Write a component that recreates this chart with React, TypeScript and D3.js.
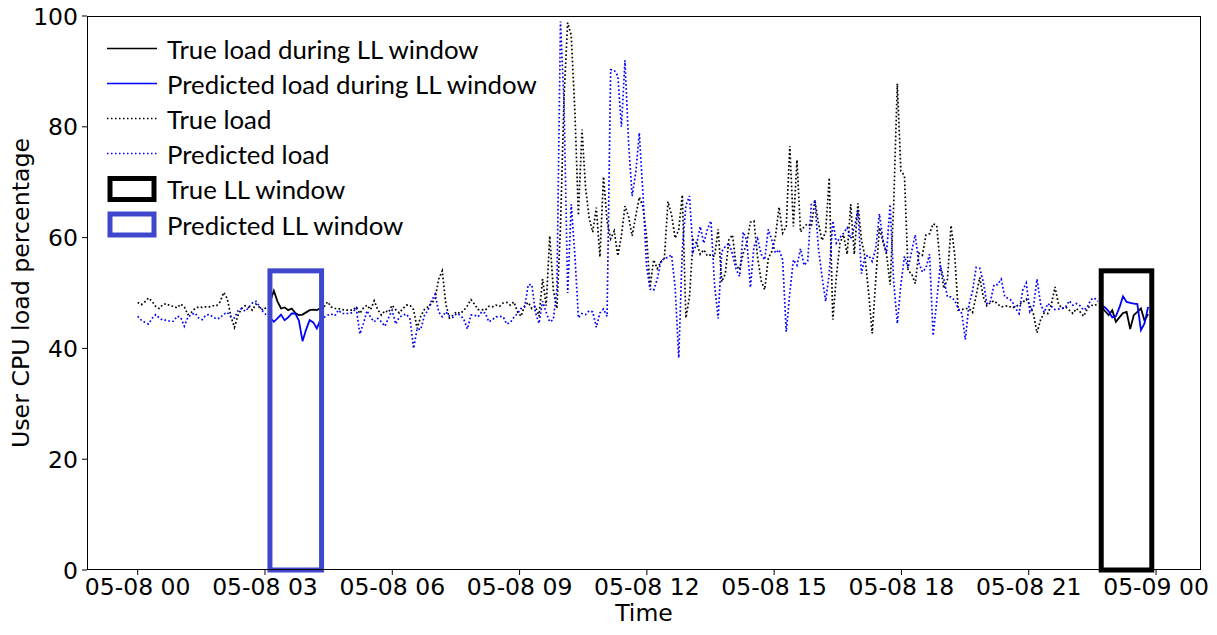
import React from 'react';
import * as d3 from 'd3';

// True user CPU load (%), one value per sampling step starting 05-08 00:00
const trueLoad: number[] = [
  48.3, 47.9, 48.4, 49.1, 48.5, 47.6, 47.2, 47.9, 48.1, 47.7, 47.6, 47.3,
  48.0, 47.5, 46.1, 46.5, 47.2, 47.5, 47.4, 47.5, 47.5, 47.7, 47.7, 48.4,
  50.1, 49.0, 45.8, 43.8, 46.0, 47.2, 47.7, 47.4, 46.9, 48.0, 47.4, 46.9,
  47.5, 48.5, 50.4, 48.5, 47.2, 47.4, 46.9, 47.2, 46.4, 46.0, 46.1, 46.5,
  46.9, 47.0, 46.9, 47.3, 47.5, 48.4, 47.5, 47.2, 47.2, 47.0, 46.9, 46.9,
  46.9, 47.5, 46.3, 47.3, 47.8, 47.0, 48.6, 47.0, 46.0, 46.8, 46.5, 47.8,
  47.0, 46.4, 47.2, 47.8, 47.8, 47.0, 43.6, 45.8, 47.0, 47.5, 48.1, 49.0,
  52.5, 54.0, 48.0, 45.5, 46.0, 46.6, 46.3, 46.8, 47.7, 48.8, 48.0, 47.0,
  47.0, 46.9, 47.6, 47.5, 47.8, 47.6, 48.2, 48.3, 47.8, 48.4, 46.6, 45.8,
  47.7, 48.3, 47.2, 47.6, 45.8, 52.5, 47.7, 60.3, 50.5, 47.2, 62.0, 85.5,
  98.8, 96.5, 83.0, 64.0, 79.5, 69.0, 63.5, 61.0, 65.4, 56.5, 71.0, 63.0,
  59.8, 61.2, 56.7, 60.3, 65.7, 63.8, 60.3, 63.9, 67.3, 65.6, 60.5, 51.0,
  56.0, 54.4, 55.6, 56.3, 66.5, 64.1, 59.9, 61.4, 67.7, 45.5, 49.3, 59.6,
  59.0, 57.0, 57.8, 56.7, 56.9, 56.6, 61.5, 52.0, 53.5, 59.6, 60.5, 55.0,
  54.2, 57.2, 59.0, 62.8, 63.0, 56.5, 52.2, 50.6, 56.3, 57.5, 60.2, 65.5,
  60.8, 62.0, 76.5, 62.0, 74.0, 61.0, 62.0, 62.5, 62.0, 66.8, 62.5, 59.5,
  61.0, 70.8, 45.2, 53.0, 59.0, 60.5, 57.0, 66.0, 57.0, 66.2, 59.5, 56.5,
  50.0, 42.7, 52.5, 61.8, 59.3, 57.0, 51.5, 66.0, 87.8, 72.0, 71.2, 54.0,
  53.5, 51.7, 57.2, 56.8, 60.5, 60.7, 62.5, 62.2, 55.0, 50.8, 52.5, 62.2,
  57.0, 46.9, 47.0, 47.2, 47.2, 46.5, 49.5, 52.8, 49.3, 47.7, 48.3, 48.6,
  48.0, 47.5, 47.6, 47.7, 47.3, 47.5, 47.9, 48.3, 48.9, 47.8, 46.2, 42.8,
  45.2, 46.4, 46.3, 47.9, 51.1, 48.0, 47.2, 47.5, 46.9, 46.3, 47.2, 46.6,
  45.8, 47.1, 47.8, 47.7, 48.1, 47.5, 46.7, 46.0, 46.9, 44.8, 45.6, 46.4,
  46.6, 43.5, 46.0, 46.6, 47.2, 45.0, 46.2,
];

// Predicted user CPU load (%)
const predLoad: number[] = [
  45.8, 45.1, 44.7, 44.4, 45.4, 46.1, 45.5, 45.1, 45.1, 44.9, 44.9, 45.8,
  45.6, 44.0, 45.6, 46.1, 46.4, 45.5, 45.2, 46.0, 46.1, 45.7, 45.3, 45.5,
  46.2, 46.5, 45.7, 45.5, 46.8, 47.2, 46.7, 47.4, 48.2, 48.5, 47.6, 46.6,
  46.0, 45.5, 44.8, 45.4, 46.1, 45.1, 45.6, 46.3, 46.3, 45.0, 41.3, 43.4,
  45.1, 44.7, 43.6, 45.2, 45.6, 46.0, 46.2, 45.9, 46.9, 46.3, 46.3, 46.3,
  46.5, 47.3, 42.6, 44.5, 46.8, 45.6, 44.8, 45.4, 44.8, 44.0, 45.5, 46.9,
  44.4, 45.6, 46.0, 46.2, 45.3, 40.0, 43.6, 43.4, 45.9, 46.9, 48.6, 49.8,
  46.6, 45.7, 46.6, 45.8, 45.6, 46.3, 46.0, 45.3, 43.5, 46.0, 46.0, 45.7,
  46.6, 46.4, 44.8, 45.2, 45.7, 45.8, 45.7, 44.4, 44.7, 45.6, 46.3, 47.2,
  47.5, 51.5, 51.5, 46.5, 44.5, 48.5, 46.5, 44.8, 45.2, 50.7, 99.0, 84.0,
  50.0, 66.0, 57.0, 45.5, 46.3, 46.1, 46.8, 46.6, 43.8, 46.4, 47.1, 45.8,
  90.3, 90.2, 89.2, 80.0, 92.0, 77.0, 67.5, 71.7, 78.9, 68.0, 55.0, 50.7,
  50.5, 52.5, 55.6, 56.3, 56.4, 56.9, 51.0, 38.3, 58.0, 65.8, 67.5, 57.5,
  58.8, 62.0, 59.0, 61.5, 63.0, 51.5, 45.4, 57.5, 58.4, 59.0, 57.0, 54.3,
  53.0, 61.0, 59.5, 51.0, 58.4, 59.8, 57.0, 56.0, 61.5, 59.5, 57.2, 57.8,
  56.0, 43.0, 50.0, 56.0, 55.0, 58.0, 55.0, 55.8, 66.0, 66.5, 58.0, 53.0,
  48.5, 53.5, 63.0, 59.0, 60.0, 60.8, 61.8, 59.8, 61.8, 65.0, 53.5, 56.6,
  56.8, 55.7, 58.0, 64.3, 59.6, 57.2, 66.0, 52.0, 44.5, 51.5, 56.6, 54.5,
  57.5, 60.5, 55.5, 53.8, 54.5, 57.0, 42.3, 48.5, 55.0, 52.5, 49.3, 49.3,
  48.7, 47.2, 46.3, 41.6, 47.9, 50.3, 54.6, 54.5, 52.0, 48.1, 48.5, 51.5,
  51.5, 52.5, 49.3, 49.0, 48.6, 47.2, 46.3, 50.5, 51.8, 46.6, 47.5, 52.5,
  48.0, 46.5, 48.1, 47.6, 47.0, 47.1, 47.2, 47.5, 48.6, 47.8, 48.1, 47.7,
  46.9, 47.4, 48.8, 49.1, 48.5, 47.8, 47.4, 46.7, 45.6, 45.8, 47.4, 49.4,
  48.4, 48.2, 48.1, 48.0, 43.3, 44.5, 47.5,
];

const START = new Date(2019, 4, 8, 0, 0, 0);
const STEP_SEC = 304; // sampling interval (seconds)
const X_DOMAIN = [new Date(2019, 4, 7, 22, 48, 18), new Date(2019, 4, 9, 1, 3, 36)];
const Y_DOMAIN = [0, 100];
const Y_TICKS = [0, 20, 40, 60, 80, 100];

// LL windows [start, end] and the height of the marking box
const PRED_WINDOW = [new Date(2019, 4, 8, 3, 7, 0), new Date(2019, 4, 8, 4, 20, 0)];
const TRUE_WINDOW = [new Date(2019, 4, 8, 22, 42, 30), new Date(2019, 4, 8, 23, 54, 0)];
const WINDOW_TOP = 54;

const LEGEND_LABELS = [
  'True load during LL window',
  'Predicted load during LL window',
  'True load',
  'Predicted load',
  'True LL window',
  'Predicted LL window',
];

const W = 1217;
const H = 635;
const M = { left: 87, right: 1201, top: 16, bottom: 570 };
const BLUE = '#0000ff';
const WIN_BLUE = '#3f48cc';
const TICK_FONT = '"DejaVu Sans", sans-serif';
const LEGEND_FONT = 'Lato, "Liberation Sans", sans-serif';

const timeOf = (i: number) => new Date(START.getTime() + i * STEP_SEC * 1000);
const inWin = (t: Date, w: Date[]) => t >= w[0] && t <= w[1];

export default function App() {
  const x = d3.scaleTime().domain(X_DOMAIN).range([M.left, M.right]);
  const y = d3.scaleLinear().domain(Y_DOMAIN).range([M.bottom, M.top]);

  const pts = (arr: number[]) => arr.map((v, i) => ({ t: timeOf(i), v }));
  const tPts = pts(trueLoad);
  const pPts = pts(predLoad);
  const inAny = (t: Date) => inWin(t, PRED_WINDOW) || inWin(t, TRUE_WINDOW);

  const dotted = d3
    .line<{ t: Date; v: number }>()
    .defined((d) => !inAny(d.t))
    .x((d) => x(d.t))
    .y((d) => y(d.v));
  const solid = d3
    .line<{ t: Date; v: number }>()
    .defined((d) => inAny(d.t))
    .x((d) => x(d.t))
    .y((d) => y(d.v));

  const xTicks = x.ticks(d3.timeHour.every(3) as any);
  const fmt = d3.timeFormat('%m-%d %H');

  const winRect = (w: Date[], color: string, key: string) => (
    <rect
      key={key}
      x={x(w[0])}
      y={y(WINDOW_TOP)}
      width={x(w[1]) - x(w[0])}
      height={y(0) - y(WINDOW_TOP)}
      fill="none"
      stroke={color}
      strokeWidth={5}
    />
  );

  const legendRows = [48.5, 83.5, 118.5, 153.5, 189, 224.5];
  const DOT = '1.7,2.3';

  return (
    <svg
      width={W}
      height={H}
      style={{ position: 'absolute', left: 0, top: 0, background: '#fff' }}
    >
      <rect x={0} y={0} width={W} height={H} fill="#fff" />
      <defs>
        <clipPath id="plot">
          <rect x={M.left} y={M.top} width={M.right - M.left} height={M.bottom - M.top} />
        </clipPath>
      </defs>

      <g clipPath="url(#plot)">
        <path d={dotted(tPts) || ''} fill="none" stroke="#000" strokeWidth={1.7} strokeDasharray={DOT} />
        <path d={dotted(pPts) || ''} fill="none" stroke={BLUE} strokeWidth={1.7} strokeDasharray={DOT} />
        <path d={solid(tPts) || ''} fill="none" stroke="#000" strokeWidth={1.8} />
        <path d={solid(pPts) || ''} fill="none" stroke={BLUE} strokeWidth={1.8} />
      </g>
      {winRect(PRED_WINDOW, WIN_BLUE, 'pw')}
      {winRect(TRUE_WINDOW, '#000', 'tw')}

      {/* frame */}
      <rect
        x={M.left + 0.5}
        y={M.top + 0.5}
        width={M.right - M.left - 1}
        height={M.bottom - M.top - 1}
        fill="none"
        stroke="#000"
        strokeWidth={1}
      />

      {/* x axis */}
      {xTicks.map((t, i) => (
        <g key={'xt' + i}>
          <line x1={x(t)} x2={x(t)} y1={M.bottom} y2={M.bottom + 5} stroke="#000" />
          <text
            x={x(t)}
            y={595}
            textAnchor="middle"
            fontFamily={TICK_FONT}
            fontSize={23.5}
            fill="#000"
          >
            {fmt(t)}
          </text>
        </g>
      ))}
      {/* y axis */}
      {Y_TICKS.map((v) => (
        <g key={'yt' + v}>
          <line x1={M.left - 5} x2={M.left} y1={y(v)} y2={y(v)} stroke="#000" />
          <text
            x={78}
            y={y(v) + 8.5}
            textAnchor="end"
            fontFamily={TICK_FONT}
            fontSize={23.5}
            fill="#000"
          >
            {v}
          </text>
        </g>
      ))}

      <text x={(M.left + M.right) / 2} y={621} textAnchor="middle" fontFamily={TICK_FONT} fontSize={23.5}>
        Time
      </text>
      <text
        transform={`translate(29, ${(M.top + M.bottom) / 2}) rotate(-90)`}
        textAnchor="middle"
        fontFamily={TICK_FONT}
        fontSize={23.7}
      >
        User CPU load percentage
      </text>

      {/* legend */}
      <g>
        <line x1={107} x2={157} y1={legendRows[0]} y2={legendRows[0]} stroke="#000" strokeWidth={1.5} />
        <line x1={107} x2={157} y1={legendRows[1]} y2={legendRows[1]} stroke={BLUE} strokeWidth={1.5} />
        <line x1={107} x2={157} y1={legendRows[2]} y2={legendRows[2]} stroke="#000" strokeWidth={1.5} strokeDasharray="1.5,2.5" />
        <line x1={107} x2={157} y1={legendRows[3]} y2={legendRows[3]} stroke={BLUE} strokeWidth={1.5} strokeDasharray="1.5,2.5" />
        <rect x={110} y={legendRows[4] - 10.5} width={44} height={21} fill="none" stroke="#000" strokeWidth={5} />
        <rect x={110} y={legendRows[5] - 10.5} width={44} height={21} fill="none" stroke={WIN_BLUE} strokeWidth={5} />
        {LEGEND_LABELS.map((s, i) => (
          <text
            key={s}
            x={167}
            y={legendRows[i] + 10}
            fontFamily={LEGEND_FONT}
            fontSize={25.8}
            fill="#000"
          >
            {s}
          </text>
        ))}
      </g>
    </svg>
  );
}
